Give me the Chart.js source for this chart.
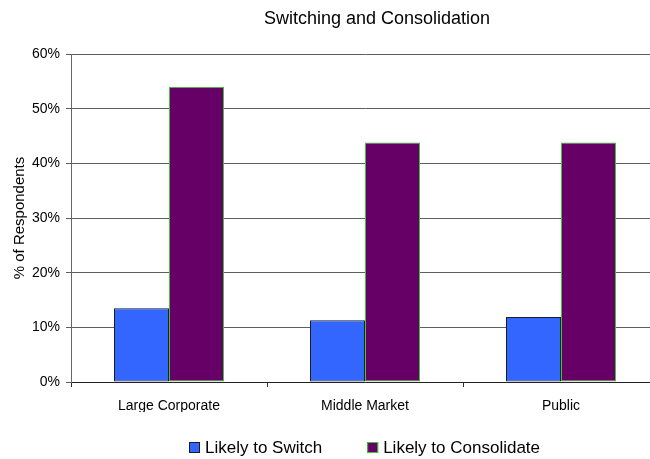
<!DOCTYPE html>
<html>
<head>
<meta charset="utf-8">
<script src="https://cdn.jsdelivr.net/npm/chart.js@4/dist/chart.umd.min.js"></script>
<style>
  html, body { margin: 0; padding: 0; background: #fff; overflow: hidden; }
  #wrap { width: 650px; height: 459px; overflow: hidden; position: relative; }
  canvas { display: block; }
</style>
</head>
<body>
<div id="wrap"><canvas id="chart" width="700" height="459"></canvas></div>
<script>
// Survey results, in percent of respondents
const chartTitle = 'Switching and Consolidation';
const axisTitle = '% of Respondents';
const categories = ['Large Corporate', 'Middle Market', 'Public'];
const seriesNames = ['Likely to Switch', 'Likely to Consolidate'];
const likelyToSwitch = [13.5, 11.3, 11.9];
const likelyToConsolidate = [54.0, 43.8, 43.8];
const yMin = 0, yMax = 60, yStep = 10;

const FONT = '"Liberation Sans", Arial, Helvetica, sans-serif';

// Title above the plot and a key below the axis labels
const headerAndKey = {
  id: 'headerAndKey',
  afterDraw(chart) {
    const { ctx, chartArea } = chart;
    const mid = (chartArea.left + chartArea.right) / 2;
    ctx.save();
    ctx.fillStyle = '#000';
    ctx.textBaseline = 'middle';
    ctx.textAlign = 'center';
    ctx.font = '18px ' + FONT;
    ctx.fillText(chartTitle, mid + 12, 19);

    ctx.font = '17px ' + FONT;
    ctx.textAlign = 'left';
    const box = 11, gapText = 5, gapItem = 45;
    const items = chart.data.datasets.map(ds => ({
      label: ds.label, fill: ds.backgroundColor, stroke: ds.borderColor,
      w: ctx.measureText(ds.label).width
    }));
    const total = items.reduce((s, it) => s + box + gapText + it.w, 0) + gapItem * (items.length - 1);
    let x = Math.round(mid - total / 2);
    const y = 447.5;
    items.forEach(it => {
      ctx.fillStyle = it.fill;
      ctx.fillRect(x, y - box / 2, box, box);
      ctx.strokeStyle = it.stroke;
      ctx.lineWidth = 1;
      ctx.strokeRect(x + 0.5, Math.round(y - box / 2) + 0.5, box - 1, box - 1);
      ctx.fillStyle = '#000';
      ctx.fillText(it.label, x + box + gapText, y + 1);
      x += box + gapText + it.w + gapItem;
    });
    ctx.restore();
  }
};

new Chart(document.getElementById('chart'), {
  type: 'bar',
  data: {
    labels: categories,
    datasets: [
      {
        label: seriesNames[0],
        data: likelyToSwitch,
        backgroundColor: '#3366FF',
        borderColor: '#1a1a2a',
        borderWidth: 1,
        borderSkipped: false
      },
      {
        label: seriesNames[1],
        data: likelyToConsolidate,
        backgroundColor: '#660066',
        borderColor: '#33CC33',
        borderWidth: 1,
        borderSkipped: false
      }
    ]
  },
  options: {
    responsive: false,
    animation: false,
    layout: { padding: { top: 54, right: 41, bottom: 47, left: 0 } },
    datasets: { bar: { categoryPercentage: 110 / 196, barPercentage: 1.0 } },
    plugins: {
      legend: { display: false },
      title: { display: false },
      tooltip: { enabled: false }
    },
    scales: {
      x: {
        afterFit(scale) { scale.height = 30; },
        grid: {
          display: true,
          drawOnChartArea: false,
          drawTicks: true,
          tickLength: 5,
          color: '#333',
          offset: true
        },
        border: { display: true, color: '#222', width: 1 },
        ticks: {
          color: '#000',
          padding: 11,
          font: { family: FONT, size: 14 }
        }
      },
      y: {
        min: yMin,
        max: yMax,
        afterFit(scale) { scale.width = 71; },
        grid: {
          color: '#5e5e5e',
          tickLength: 5,
          drawTicks: true
        },
        border: { display: true, color: '#666', width: 1 },
        ticks: {
          stepSize: yStep,
          color: '#000',
          padding: 6,
          font: { family: FONT, size: 14 },
          callback: v => v + '%'
        },
        title: {
          display: true,
          text: axisTitle,
          color: '#000',
          font: { family: FONT, size: 15 },
          padding: { top: 11, bottom: 0 }
        }
      }
    }
  },
  plugins: [headerAndKey]
});
</script>
</body>
</html>
